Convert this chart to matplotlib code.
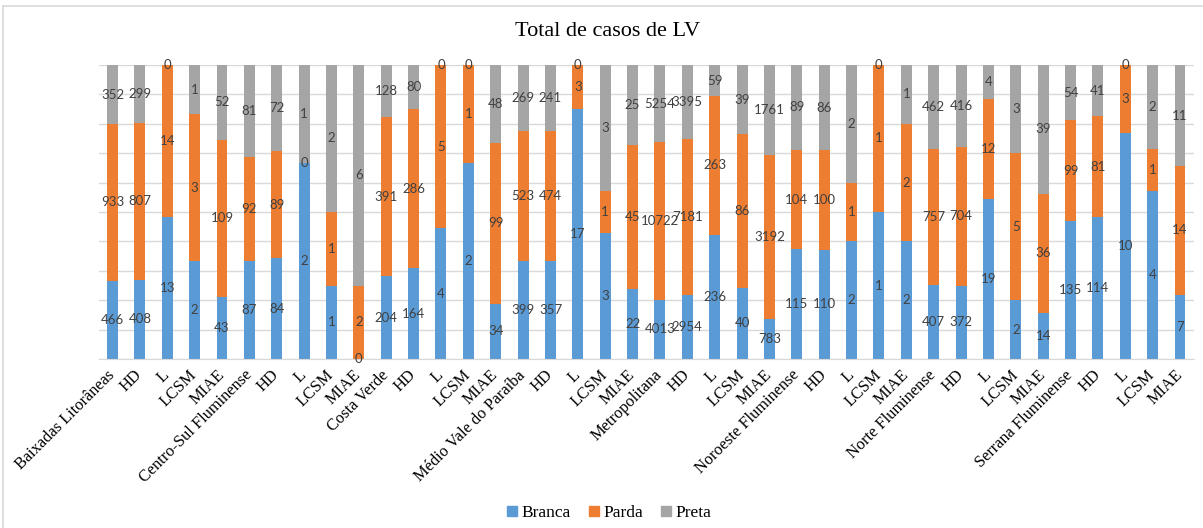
import matplotlib
matplotlib.use("Agg")
import matplotlib.pyplot as plt
import numpy as np
from matplotlib.lines import Line2D

# categories (region total followed by its sub-groups)
categories = [
    "Baixadas Litorâneas", "HD", "L", "LCSM", "MIAE",
    "Centro-Sul Fluminense", "HD", "L", "LCSM", "MIAE",
    "Costa Verde", "HD", "L", "LCSM", "MIAE",
    "Médio Vale do Paraíba", "HD", "L", "LCSM", "MIAE",
    "Metropolitana", "HD", "L", "LCSM", "MIAE",
    "Noroeste Fluminense", "HD", "L", "LCSM", "MIAE",
    "Norte Fluminense", "HD", "L", "LCSM", "MIAE",
    "Serrana Fluminense", "HD", "L", "LCSM", "MIAE",
]

branca = [466, 408, 13, 2, 43,
          87, 84, 2, 1, 0,
          204, 164, 4, 2, 34,
          399, 357, 17, 3, 22,
          4013, 2954, 236, 40, 783,
          115, 110, 2, 1, 2,
          407, 372, 19, 2, 14,
          135, 114, 10, 4, 7]
parda = [933, 807, 14, 3, 109,
         92, 89, 0, 1, 2,
         391, 286, 5, 1, 99,
         523, 474, 3, 1, 45,
         10722, 7181, 263, 86, 3192,
         104, 100, 1, 1, 2,
         757, 704, 12, 5, 36,
         99, 81, 3, 1, 14]
preta = [352, 299, 0, 1, 52,
         81, 72, 1, 2, 6,
         128, 80, 0, 0, 48,
         269, 241, 0, 3, 25,
         5254, 3395, 59, 39, 1761,
         89, 86, 2, 0, 1,
         462, 416, 4, 3, 39,
         54, 41, 0, 2, 11]

series_names = ["Branca", "Parda", "Preta"]
colors = ["#5B9BD5", "#ED7D31", "#A5A5A5"]

W, H = 1203, 528
fig = plt.figure(figsize=(W / 100, H / 100), dpi=100)
ax = fig.add_axes([98.8 / W, 1 - 359 / H, (1193.7 - 98.8) / W, (359 - 65) / H])

counts = np.array([branca, parda, preta], dtype=float)
totals = counts.sum(axis=0)
shares = counts / totals

x = np.arange(len(categories))
bottom = np.zeros(len(categories))
for i, name in enumerate(series_names):
    bars = ax.bar(x, shares[i], 0.4, bottom=bottom, color=colors[i], label=name, zorder=2)
    ax.bar_label(bars, labels=[str(int(v)) for v in counts[i]], label_type="center",
                 fontsize=9.5, color="#404040", family="Lato")
    bottom += shares[i]

ax.set_xlim(-0.5, len(categories) - 0.5)
ax.set_ylim(0, 1)
ax.set_yticks(np.arange(0, 1.01, 0.1))
ax.set_yticklabels([])
ax.tick_params(axis="y", length=0)
ax.grid(axis="y", color="#D9D9D9", linewidth=1, zorder=0)
for s in ["top", "right", "left"]:
    ax.spines[s].set_visible(False)
ax.spines["bottom"].set_color("#D9D9D9")

ax.set_xticks(x)
ax.set_xticklabels(categories, rotation=45, ha="right", va="center",
                   rotation_mode="anchor", family="Liberation Serif", fontsize=11.8,
                   color="#000000")
ax.tick_params(axis="x", length=0, pad=10)

fig.text(608 / W, 1 - 31 / H, "Total de casos de LV", ha="center", va="center",
         family="Liberation Serif", fontsize=16, color="#000000")

handles = [Line2D([], [], marker="s", linestyle="none", markersize=6.5, color=c) for c in colors]
fig.legend(handles, series_names, loc="center", bbox_to_anchor=(609 / W, 1 - 513 / H),
           ncol=3, frameon=False, prop={"family": "Liberation Serif", "size": 12.5},
           handlelength=0.6, handletextpad=0.25, columnspacing=1.0)

# chart area border (top and left edges visible)
fig.add_artist(Line2D([3 / W, 1], [1 - 6 / H, 1 - 6 / H], color="#D9D9D9", linewidth=1.2,
                      transform=fig.transFigure))
fig.add_artist(Line2D([3 / W, 3 / W], [0, 1 - 6 / H], color="#D9D9D9", linewidth=1.2,
                      transform=fig.transFigure))

fig.savefig("out.png", dpi=100, facecolor="white")
